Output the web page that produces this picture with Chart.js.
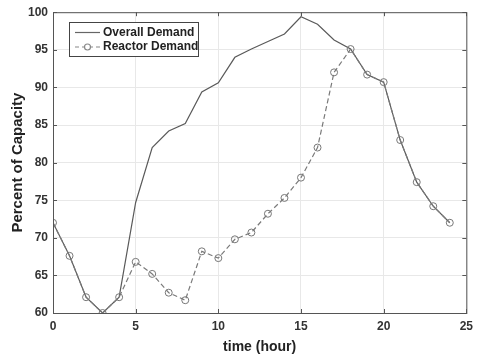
<!DOCTYPE html>
<html>
<head>
<meta charset="utf-8">
<script src="https://cdn.jsdelivr.net/npm/chart.js@4"></script>
<style>
  html, body { margin: 0; padding: 0; background: #fff; }
  #wrap { position: relative; width: 479px; height: 360px; }
</style>
</head>
<body>
<div id="wrap"><canvas id="chart" width="479" height="360"></canvas></div>
<script>
const hours = [0, 1, 2, 3, 4, 5, 6, 7, 8, 9, 10, 11, 12, 13, 14, 15, 16, 17, 18, 19, 20, 21, 22, 23, 24];
const overallDemand = [72.0, 67.6, 62.1, 60.0, 62.1, 74.7, 82.0, 84.2, 85.2, 89.4, 90.6, 94.0, 95.1, 96.1, 97.1, 99.4, 98.4, 96.3, 95.1, 91.7, 90.7, 83.0, 77.4, 74.2, 72.0];
const reactorDemand = [72.0, 67.6, 62.1, 60.0, 62.1, 66.8, 65.2, 62.7, 61.7, 68.2, 67.3, 69.8, 70.7, 73.2, 75.3, 78.0, 82.0, 92.0, 95.1, 91.7, 90.7, 83.0, 77.4, 74.2, 72.0];
const seriesNames = ['Overall Demand', 'Reactor Demand'];
const xTicks = [0, 5, 10, 15, 20, 25];
const yTicks = [60, 65, 70, 75, 80, 85, 90, 95, 100];

const FONT = '"Liberation Sans", Arial, sans-serif';

// box around the plot, inward tick marks, and the legend (MATLAB style)
const boxAndLegend = {
  id: 'boxAndLegend',
  afterDatasetsDraw(chart) {
    const { ctx, chartArea: a, scales } = chart;
    ctx.save();
    ctx.strokeStyle = '#555';
    ctx.lineWidth = 1;
    ctx.strokeRect(a.left + 0.5, a.top + 0.5, a.right - a.left, a.bottom - a.top);

    // inward ticks
    ctx.beginPath();
    for (const v of xTicks) {
      const px = Math.round(scales.x.getPixelForValue(v)) + 0.5;
      ctx.moveTo(px, a.bottom); ctx.lineTo(px, a.bottom - 4);
      ctx.moveTo(px, a.top); ctx.lineTo(px, a.top + 4);
    }
    for (const v of yTicks) {
      const py = Math.round(scales.y.getPixelForValue(v)) + 0.5;
      ctx.moveTo(a.left, py); ctx.lineTo(a.left + 4, py);
      ctx.moveTo(a.right, py); ctx.lineTo(a.right - 4, py);
    }
    ctx.stroke();

    // legend
    const lx = 69.5, ly = 22.5, lw = 129, lh = 34;
    ctx.fillStyle = '#fff';
    ctx.fillRect(lx, ly, lw, lh);
    ctx.strokeStyle = '#444';
    ctx.strokeRect(lx, ly, lw, lh);
    ctx.font = 'bold 12px ' + FONT;
    ctx.textBaseline = 'middle';
    ctx.fillStyle = '#222';

    ctx.strokeStyle = '#666';
    ctx.lineWidth = 1.2;
    ctx.beginPath();
    ctx.moveTo(75, 32.5); ctx.lineTo(100, 32.5);
    ctx.stroke();
    ctx.fillText(seriesNames[0], 103, 32.5);

    ctx.strokeStyle = '#888';
    ctx.setLineDash([4, 3]);
    ctx.beginPath();
    ctx.moveTo(75, 47); ctx.lineTo(100, 47);
    ctx.stroke();
    ctx.setLineDash([]);
    ctx.beginPath();
    ctx.arc(87.5, 47, 3, 0, Math.PI * 2);
    ctx.fillStyle = '#fff';
    ctx.fill();
    ctx.stroke();
    ctx.fillStyle = '#222';
    ctx.fillText(seriesNames[1], 103, 47);
    ctx.restore();
  }
};

new Chart(document.getElementById('chart'), {
  type: 'line',
  data: {
    datasets: [
      {
        label: seriesNames[1],
        data: hours.map((h, i) => ({ x: h, y: reactorDemand[i] })),
        borderColor: '#7a7a7a',
        borderWidth: 1.2,
        borderDash: [5, 3],
        pointRadius: 3.5,
        pointBorderColor: '#777',
        pointBackgroundColor: 'rgba(255,255,255,0)',
        pointBorderWidth: 1,
        tension: 0,
        fill: false,
      },
      {
        label: seriesNames[0],
        data: hours.map((h, i) => ({ x: h, y: overallDemand[i] })),
        borderColor: '#5a5a5a',
        borderWidth: 1.2,
        pointRadius: 0,
        tension: 0,
        fill: false,
      }
    ]
  },
  options: {
    responsive: false,
    animation: false,
    layout: { padding: { top: 7, right: 9, left: 0, bottom: 0 } },
    plugins: {
      legend: { display: false },
      tooltip: { enabled: false },
    },
    scales: {
      x: {
        type: 'linear',
        min: 0,
        max: 25,
        afterBuildTicks: s => { s.ticks = xTicks.map(v => ({ value: v })); },
        afterFit: s => { s.height = 47; },
        grid: { color: '#e8e8e8', tickLength: 0 },
        border: { color: '#555' },
        ticks: { color: '#333', padding: 6, font: { family: FONT, size: 12, weight: 'bold' } },
        title: {
          display: true,
          text: 'time (hour)',
          color: '#222',
          padding: { top: 0 },
          font: { family: FONT, size: 14, weight: 'bold' },
        },
      },
      y: {
        min: 60,
        max: 100,
        afterBuildTicks: s => { s.ticks = yTicks.map(v => ({ value: v })); },
        afterFit: s => { s.width = 53; },
        grid: { color: '#e8e8e8', tickLength: 0 },
        border: { color: '#555' },
        ticks: { color: '#333', padding: 5, font: { family: FONT, size: 12, weight: 'bold' } },
        title: {
          display: true,
          text: 'Percent of Capacity',
          color: '#222',
          padding: { top: 9, bottom: 2 },
          font: { family: FONT, size: 15, weight: 'bold' },
        },
      },
    },
  },
  plugins: [boxAndLegend],
});
</script>
</body>
</html>
